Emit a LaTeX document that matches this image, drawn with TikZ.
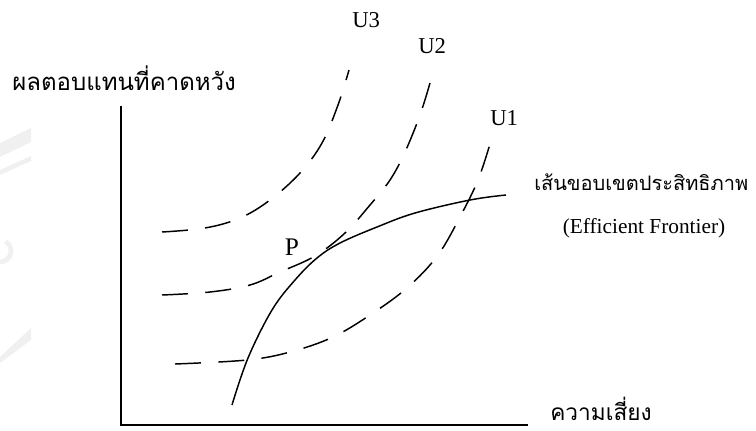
\documentclass[tikz,border=0pt]{standalone}
\usepackage{fontspec}
\setmainfont{Liberation Serif}
\newfontfamily\thaifont[Script=Thai]{Loma}
\usetikzlibrary{positioning}

\begin{document}
\begin{tikzpicture}[x=0.75pt, y=-0.75pt,
    axisline/.style={line width=1.4pt},
    frontier/.style={line width=1.1pt},
    indiff/.style={line width=1.1pt, dash pattern=on 19.5pt off 13pt},
    thailbl/.style={font=\thaifont\fontsize{17}{20}\selectfont, inner sep=0pt},
    ulbl/.style={font=\fontsize{17}{20}\selectfont, inner sep=0pt},
    faint/.style={fill=gray!12}]
  \useasboundingbox (0,0) rectangle (756,430);

  % watermark
  \fill[faint] (0,143) -- (31,128) -- (31,142) -- (0,157) -- cycle;
  \fill[faint] (0,170) -- (31,156) -- (31,161) -- (0,175) -- cycle;
  \fill[faint] (0,357) -- (31,328) -- (31,340) -- (0,363) -- cycle;
  \draw[gray!12, line width=3.5pt] (0,262) arc[start angle=90, end angle=-60, radius=11];

  % axes
  \coordinate (ytop) at (121,106);
  \coordinate (orig) at (121,425);
  \coordinate (xend) at (528,425);
  \draw[axisline] (ytop) -- (orig) -- (xend);

  % axis labels
  \node[thailbl, font=\thaifont\fontsize{18}{21}\selectfont, anchor=base west]
    (ylab) at (12,90) {ผลตอบแทนที่คาดหวัง};
  \node[thailbl, anchor=base west] (xlab) at (550,420) {ความเสี่ยง};

  % efficient frontier
  \draw[frontier] plot[smooth, tension=0.6] coordinates {
    (232,405) (248,358) (272,310) (295,280) (317,258) (340,243)
    (377,227) (415,213) (470,200) (506,195)};
  \node[thailbl, font=\thaifont\fontsize{15}{18}\selectfont, anchor=base west]
    (efth) at (534,190) {เส้นขอบเขตประสิทธิภาพ};
  \node[font=\fontsize{16}{19}\selectfont, inner sep=0pt, anchor=base] (efen)
    at (644,233) {(Efficient Frontier)};

  % indifference curves
  \draw[indiff] plot[smooth, tension=0.6] coordinates {
    (162,232) (205,228) (240,218) (270,200) (300,173) (322,143)
    (338,105) (349,70)};
  \draw[indiff] plot[smooth, tension=0.6] coordinates {
    (162,295) (210,292) (250,285) (280,272) (315,256) (345,233)
    (370,205) (390,180) (405,152) (420,115) (430,83)};
  \draw[indiff] plot[smooth, tension=0.6] coordinates {
    (175,364) (247,360) (290,352) (333,337) (373,313) (408,287)
    (438,255) (461,215) (478,180) (490,144)};

  % curve labels
  \node[ulbl, anchor=base west] (u3) at (352,27) {U3};
  \node[ulbl, anchor=base west] (u2) at (418,53) {U2};
  \node[ulbl, anchor=base west] (u1) at (490,125) {U1};
  \node[font=\fontsize{19}{22}\selectfont, inner sep=0pt, anchor=base] (ptp)
    at (292,255) {P};
\end{tikzpicture}
\end{document}
